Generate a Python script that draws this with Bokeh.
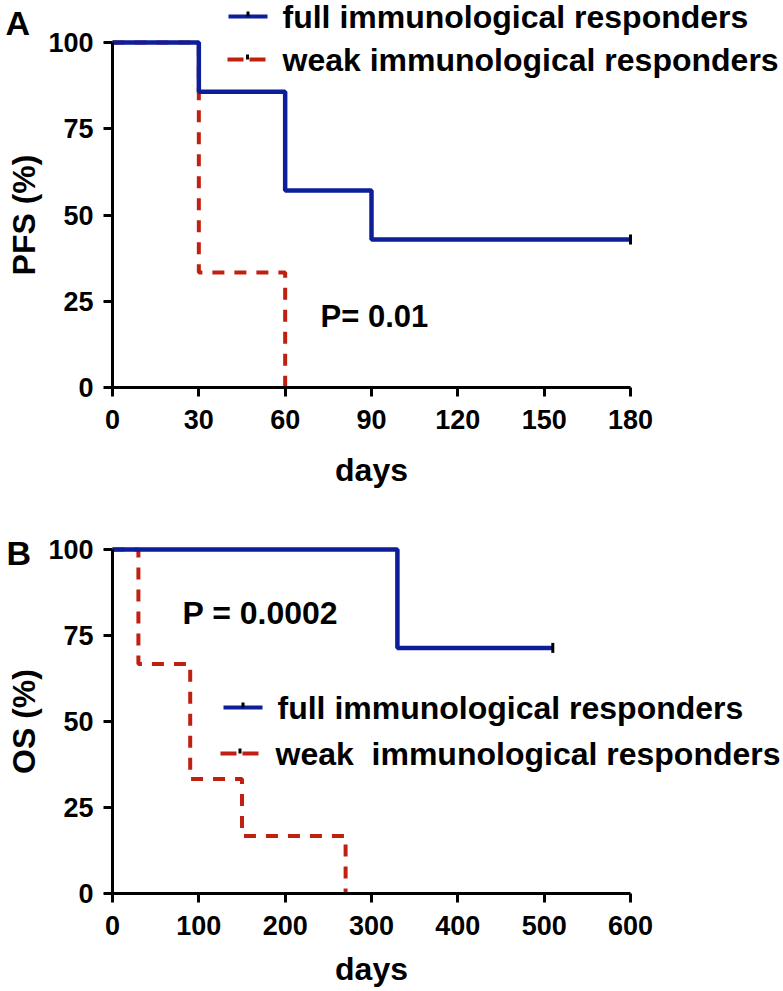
import math
from bokeh.plotting import figure
from bokeh.models import Range1d, FixedTicker, Label, Arrow
from bokeh.layouts import column
from bokeh.embed import file_html
from bokeh.resources import INLINE

FONT = "Liberation Sans"
BLUE = "#0c1e9a"
RED = "#c0200f"

# ---------------- data ----------------
# Panel A: progression-free survival
pfs_ticks_x = [0, 30, 60, 90, 120, 150, 180]
pfs_full_days = [0, 30, 60, 90, 180]
pfs_full_pct = [100, 85.7, 57.1, 42.9, 42.9]
pfs_weak_days = [0, 30, 60]
pfs_weak_pct = [100, 33.3, 0]
pfs_cens_days = [180]
pfs_cens_pct = [42.9]
pfs_p_text = "P= 0.01"

# Panel B: overall survival
os_ticks_x = [0, 100, 200, 300, 400, 500, 600]
os_full_days = [0, 330, 510]
os_full_pct = [100, 71.4, 71.4]
os_weak_days = [0, 30, 90, 150, 270]
os_weak_pct = [100, 66.7, 33.3, 16.7, 0]
os_cens_days = [510]
os_cens_pct = [71.4]
os_p_text = "P = 0.0002"

ticks_y = [0, 25, 50, 75, 100]
label_full_a = "full immunological responders"
label_weak_a = "weak immunological responders"
label_full_b = "full immunological responders"
label_weak_b = "weak\u00a0 immunological responders"

# ---------------- layout (pixels) ----------------
W = 783
AXIS_X_PX = 112          # x position of the y axis
AXIS_W_PX = 518          # length of the x axis


def make_panel(height, x_max, y_top_px, y_bottom_px, ticks_x, ylabel,
               full_x, full_y, weak_x, weak_y, cx, cy, xlabel_standoff):
    # y_top_px / y_bottom_px: pixel rows (inside this figure) of 100 % and 0 %
    kx = AXIS_W_PX / x_max
    ky = (y_bottom_px - y_top_px) / 100.0
    x_range = Range1d(-AXIS_X_PX / kx, (W - AXIS_X_PX) / kx)
    y_range = Range1d(-(height - y_bottom_px) / ky, y_bottom_px / ky)
    p = figure(width=W, height=height, x_range=x_range, y_range=y_range,
               min_border_left=0, min_border_right=0, min_border_top=0,
               min_border_bottom=0, output_backend="svg",
               toolbar_location=None)
    p.outline_line_color = None
    p.grid.visible = False
    p.background_fill_color = "white"
    p.border_fill_color = "white"

    p.step(weak_x, weak_y, mode="after", line_color=RED, line_width=4,
           line_dash="12 10", level="underlay")
    p.step(full_x, full_y, mode="after", line_color=BLUE, line_width=4.5)
    p.scatter(cx, cy, marker="dash", angle=math.pi / 2, size=10,
              line_color="black", line_width=3)

    for ax in (p.xaxis[0], p.yaxis[0]):
        ax.fixed_location = 0
        ax.axis_line_width = 3
        ax.axis_line_color = "black"
        ax.major_tick_line_width = 3
        ax.major_tick_line_color = "black"
        ax.major_tick_in = 0
        ax.major_tick_out = 9
        ax.minor_tick_line_color = None
        ax.major_label_text_font = FONT
        ax.major_label_text_font_style = "bold"
        ax.major_label_text_font_size = "27px"
        ax.major_label_text_color = "black"
        ax.axis_label_text_font = FONT
        ax.axis_label_text_font_style = "bold"
        ax.axis_label_text_font_size = "32px"
        ax.axis_label_text_color = "black"

    p.xaxis.ticker = FixedTicker(ticks=ticks_x)
    p.xaxis.bounds = (0, x_max)
    p.xaxis.major_label_standoff = 13
    p.xaxis.axis_label = "days"
    p.xaxis.axis_label_standoff = xlabel_standoff

    p.yaxis.ticker = FixedTicker(ticks=ticks_y)
    p.yaxis.bounds = (0, 100)
    p.yaxis.major_label_standoff = 10
    p.yaxis.axis_label = ylabel
    p.yaxis.axis_label_standoff = 3
    return p


def legend_entry(p, h, x0, x1, py, color, dash, text, tx):
    sy = h - py
    p.add_layout(Arrow(start=None, end=None, x_start=x0, y_start=sy, x_end=x1,
                       y_end=sy, start_units="screen", end_units="screen",
                       line_color=color, line_width=4, line_dash=dash))
    mid = (x0 + x1) / 2
    p.add_layout(Arrow(start=None, end=None, x_start=mid, y_start=sy,
                       x_end=mid, y_end=sy + 5, start_units="screen",
                       end_units="screen", line_color="black", line_width=3))
    p.add_layout(Label(x=tx, y=sy, x_units="screen", y_units="screen",
                       text=text, text_font=FONT, text_font_style="bold",
                       text_font_size="32px", text_baseline="middle",
                       text_color="black"))


def text_label(p, h, px, py, text, size):
    p.add_layout(Label(x=px, y=h - py, x_units="screen", y_units="screen",
                       text=text, text_font=FONT, text_font_style="bold",
                       text_font_size=size, text_baseline="middle",
                       text_color="black"))


# Panel A (page rows 0..497)
HA = 497
pA = make_panel(HA, 180, 42, 387, pfs_ticks_x, "PFS (%)",
                pfs_full_days, pfs_full_pct, pfs_weak_days, pfs_weak_pct,
                pfs_cens_days, pfs_cens_pct, 20)
legend_entry(pA, HA, 228, 267, 16, BLUE, "solid", label_full_a, 282)
legend_entry(pA, HA, 227, 267, 59, RED, "16 6", label_weak_a, 282)
text_label(pA, HA, 320, 316, pfs_p_text, "31px")
text_label(pA, HA, 5, 22, "A", "34px")

# Panel B (page rows 497..991)
HB = 493
TOP_B = HA
pB = make_panel(HB, 600, 549 - TOP_B, 893 - TOP_B, os_ticks_x, "OS (%)",
                os_full_days, os_full_pct, os_weak_days, os_weak_pct,
                os_cens_days, os_cens_pct, 13)
legend_entry(pB, HB, 223, 262, 707 - TOP_B, BLUE, "solid", label_full_b, 277)
legend_entry(pB, HB, 220, 259, 753 - TOP_B, RED, "16 6", label_weak_b, 275)
text_label(pB, HB, 182, 612 - TOP_B, os_p_text, "32px")
text_label(pB, HB, 6, 552 - TOP_B, "B", "34px")

layout = column(pA, pB)
open("out.html", "w").write(file_html(layout, INLINE))
